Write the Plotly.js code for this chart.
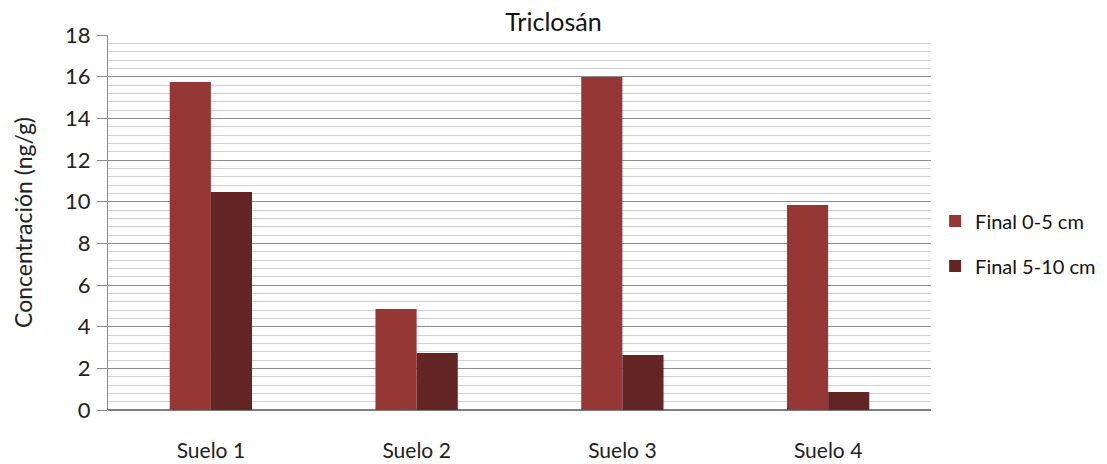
<!DOCTYPE html>
<html>
<head>
<meta charset="utf-8">
<script src="https://cdn.plot.ly/plotly-3.0.1.min.js"></script>
<style>html,body{margin:0;padding:0;background:#fff;}#chart{width:1107px;height:464px;}</style>
</head>
<body>
<div id="chart"></div>
<script>
const categories = ["Suelo 1", "Suelo 2", "Suelo 3", "Suelo 4"];
const seriesNames = ["Final 0-5 cm", "Final 5-10 cm"];
const final0to5 = [15.75, 4.85, 15.98, 9.84];
const final5to10 = [10.47, 2.74, 2.64, 0.86];
const yTicks = [0, 2, 4, 6, 8, 10, 12, 14, 16, 18];

const font = "Lato, 'Open Sans', sans-serif";
const traces = [
  {type: "bar", name: seriesNames[0], x: categories, y: final0to5, legendgroup: "a",
   marker: {color: "#953735", line: {width: 0}}},
  {type: "bar", name: seriesNames[1], x: categories, y: final5to10, legendgroup: "b",
   marker: {color: "#632523", line: {width: 0}}}
];
const layout = {
  width: 1107, height: 464,
  paper_bgcolor: "#fff", plot_bgcolor: "#fff",
  margin: {l: 108, r: 176, t: 35, b: 54, autoexpand: false},
  font: {family: font, color: "#222", size: 18},
  title: {text: "Triclosán", x: 0.5, xref: "container", y: 0.952, yanchor: "middle",
          font: {family: font, size: 25, color: "#111"}},
  barmode: "group", bargap: 0.6, bargroupgap: 0,
  showlegend: true,
  legend: {x: 1.005, xanchor: "left", y: 0.556, yanchor: "top", traceorder: "grouped",
           tracegroupgap: 16, itemwidth: 30, font: {family: font, size: 20, color: "#111"}},
  xaxis: {type: "category", showgrid: false, showline: false, zeroline: false,
          ticks: "", ticklabelstandoff: 26, tickfont: {family: font, size: 21, color: "#222"}},
  yaxis: {range: [0, 18], tickvals: yTicks, ticktext: yTicks.map(String),
          showgrid: true, gridcolor: "#8c8c8c", gridwidth: 1,
          minor: {dtick: 0.4, tick0: 0, showgrid: true, gridcolor: "#d0d0d0", gridwidth: 1},
          zeroline: true, zerolinecolor: "#7f7f7f", zerolinewidth: 1.5,
          showline: true, linecolor: "#8c8c8c", linewidth: 1,
          ticks: "outside", ticklen: 10, tickcolor: "#8c8c8c", ticklabelstandoff: 2,
          tickfont: {family: font, size: 22, color: "#222"},
          title: {text: "Concentración (ng/g)", standoff: 26, font: {family: font, size: 23, color: "#222"}}}
};
Plotly.newPlot("chart", traces, layout, {displayModeBar: false, staticPlot: true});
</script>
</body>
</html>
